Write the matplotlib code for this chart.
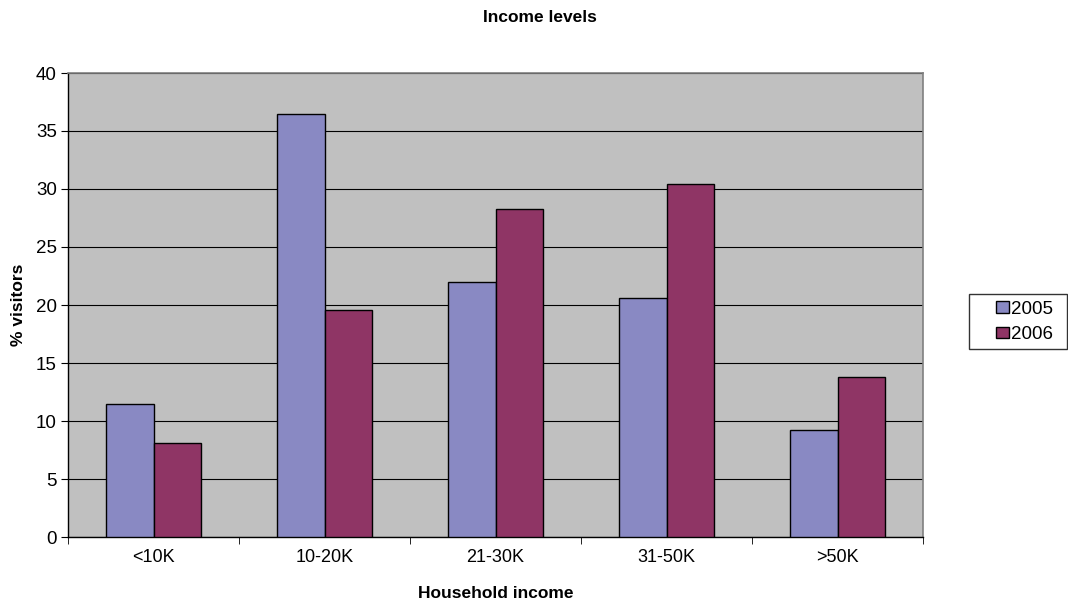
import matplotlib
matplotlib.use("Agg")
import matplotlib.pyplot as plt
from matplotlib.patches import Rectangle
import numpy as np

categories = ["<10K", "10-20K", "21-30K", "31-50K", ">50K"]
series_names = ["2005", "2006"]
values_2005 = [11.5, 36.5, 22.0, 20.6, 9.2]
values_2006 = [8.1, 19.6, 28.3, 30.4, 13.8]
y_ticks = [0, 5, 10, 15, 20, 25, 30, 35, 40]

plt.rcParams["font.family"] = ["Liberation Sans", "DejaVu Sans"]

W, H = 1068, 606
fig = plt.figure(figsize=(W / 100, H / 100), dpi=100)
ax = fig.add_axes([68 / W, 1 - 537 / H, (923 - 68) / W, (537 - 73) / H])
ax.set_facecolor("#C0C0C0")

x = np.arange(len(categories))
w = 0.28
ax.bar(x - w / 2, values_2005, width=w, color="#8989C3", edgecolor="black",
       linewidth=1.0, label=series_names[0], zorder=3)
ax.bar(x + w / 2, values_2006, width=w, color="#8F3565", edgecolor="black",
       linewidth=1.0, label=series_names[1], zorder=3)

ax.set_xlim(-0.5, len(categories) - 0.5)
ax.set_ylim(0, 40)
ax.set_yticks(y_ticks)
ax.yaxis.grid(True, color="black", linewidth=0.8, zorder=1)
ax.set_axisbelow(True)

# category labels centred, tick marks on the category boundaries
ax.set_xticks(x)
ax.set_xticklabels(categories, fontsize=13)
ax.tick_params(axis="x", length=0, pad=9)
ax.set_xticks(np.arange(-0.5, len(categories)), minor=True)
ax.tick_params(axis="x", which="minor", length=5, direction="out", color="black")
ax.tick_params(axis="y", length=5, direction="out", labelsize=13.5, pad=3)

for side in ("top", "right"):
    ax.spines[side].set_color("#808080")
    ax.spines[side].set_linewidth(1.2)
for side in ("left", "bottom"):
    ax.spines[side].set_color("black")
    ax.spines[side].set_linewidth(1.0)

ax.set_xlabel("Household income", fontsize=12.5, fontweight="bold", labelpad=14)
ax.set_ylabel("% visitors", fontsize=12.5, fontweight="bold", labelpad=7)
fig.text(540 / W, 1 - 18 / H, "Income levels", ha="center", va="center",
         fontsize=12.5, fontweight="bold")

# legend frame
fig.patches.append(Rectangle((969 / W, 1 - 349 / H), (1067 - 969) / W, (349 - 294) / H,
                             transform=fig.transFigure, facecolor="white",
                             edgecolor="#333333", linewidth=1.0, zorder=1))
leg = fig.legend(loc="center left", bbox_to_anchor=(996 / W, 1 - 322 / H),
                 fontsize=13.5, frameon=False,
                 handlelength=0.7, handleheight=0.56, handletextpad=0.12,
                 borderpad=0, labelspacing=0.45, borderaxespad=0)
leg.set_zorder(2)

fig.savefig("out.png", dpi=100)
